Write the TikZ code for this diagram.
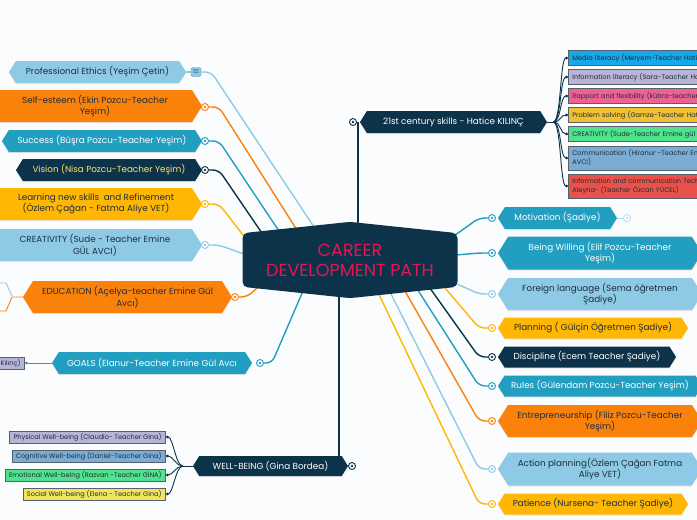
\documentclass[tikz,border=0pt]{standalone}
\usepackage{fontspec}
\setmainfont{Poppins}
\usetikzlibrary{arrows.meta, shapes.symbols, backgrounds, shadows}

\definecolor{Navy}{RGB}{13,51,74}
\definecolor{Teal}{RGB}{34,158,192}
\definecolor{SkyBlue}{RGB}{142,202,230}
\definecolor{Orange}{RGB}{250,130,10}
\definecolor{Amber}{RGB}{255,183,3}
\definecolor{Crimson}{RGB}{228,22,82}
\definecolor{Ink}{RGB}{30,45,60}
\definecolor{Lemon}{RGB}{255,230,100}
\definecolor{MediaBlue}{RGB}{22,168,232}
\definecolor{Lavender}{RGB}{184,180,216}
\definecolor{Pink}{RGB}{238,98,146}
\definecolor{Gold}{RGB}{240,192,48}
\definecolor{Mint}{RGB}{80,226,140}
\definecolor{Steel}{RGB}{122,172,212}
\definecolor{Coral}{RGB}{232,82,74}
\definecolor{Canary}{RGB}{242,228,92}
\definecolor{Paper}{RGB}{251,252,253}

\tikzset{
  branch/.style={signal, signal to=west and east, signal pointer angle=116,
    fill=#1, draw=none, inner xsep=4pt, inner ysep=2pt, align=center,
    font=\fontsize{8.8}{11.5}\selectfont,
    drop shadow={opacity=0.15, shadow xshift=0pt, shadow yshift=-1.2pt}},
  leaf/.style={rectangle, fill=#1, draw=Ink!75, line width=0.8pt, inner xsep=4pt,
    inner ysep=2pt, align=left, text=Ink, font=\fontsize{6.6}{9}\selectfont},
  marker/.style={circle, draw=#1, fill=white, line width=0.9pt, minimum size=7pt,
    inner sep=0pt, path picture={\fill[#1] (path picture bounding box.center) circle (1.3pt);}},
  link/.style={draw=#1, line width=1.4pt, rounded corners=6pt},
  twig/.style={draw=#1, line width=0.9pt},
}

\begin{document}
\begin{tikzpicture}[x=1pt, y=-1pt]
    \useasboundingbox (0,0) rectangle (697,520);

    % centre
    \node[signal, signal to=north and south, signal pointer angle=168, fill=Navy,
         rounded corners=5pt, minimum width=215pt, minimum height=72pt, text=Crimson,
         font=\fontsize{17.5}{20}\selectfont, align=center] (cdp) at (350,260)
         {CAREER\\DEVELOPMENT PATH};

    % left branches
    \node[branch=SkyBlue, text=Ink, minimum width=177pt, minimum height=22pt] (ethics) at (97.5,72)
         {Professional Ethics (Yeşim Çetin)};
    \node[fill=SkyBlue, draw=SkyBlue!70!Navy, rounded corners=1.5pt, minimum width=10pt,
         minimum height=9pt, inner sep=0pt, text=Navy, font=\fontsize{8}{8}\selectfont] (ethicon) at (196,72)
         {$\equiv$};
    \node[branch=Orange, text=Ink, minimum width=214pt, minimum height=32pt] (esteem) at (95,106)
         {Self-esteem (Ekin Pozcu-Teacher\\Yeşim)};
    \node[branch=Teal, text=white, minimum width=200pt, minimum height=22pt] (success) at (102,141)
         {Success (Büşra Pozcu-Teacher Yeşim)};
    \node[branch=Navy, text=Lemon, minimum width=186pt, minimum height=22pt] (vision) at (109,170)
         {Vision (Nisa Pozcu-Teacher Yeşim)};
    \node[branch=Amber, text=Ink, minimum width=212pt, minimum height=32pt] (learning) at (96,204)
         {Learning new skills\ \ and Refinement\\(Özlem Çağan - Fatma Aliye VET)};
    \node[branch=SkyBlue, text=Ink, minimum width=214pt, minimum height=32pt] (creativity) at (95,245)
         {CREATIVITY (Sude - Teacher Emine\\GÜL AVCI)};
    \node[branch=Orange, text=Ink, minimum width=209pt, minimum height=32pt] (education) at (127.5,297)
         {EDUCATION (Açelya-teacher Emine Gül\\Avcı)};
    \node[branch=Teal, text=white, minimum width=200pt, minimum height=22pt] (goals) at (152,363)
         {GOALS (Elanur-Teacher Emine Gül Avcı};
    \node[leaf=Lavender, anchor=east] (kilinc) at (25,363) {Kılınç)};

    \node[marker=Orange] (m-esteem) at (205,107) {};
    \node[marker=Teal] (m-success) at (205,141) {};
    \node[marker=Navy] (m-vision) at (205,170) {};
    \node[marker=Amber] (m-learning) at (205,204) {};
    \node[marker=SkyBlue] (m-creativity) at (205,245) {};
    \node[marker=Orange] (m-education) at (235,297) {};
    \node[marker=Teal] (m-goals) at (260,363) {};

    % well-being
    \node[branch=Navy, text=white, minimum width=155pt, minimum height=20pt] (wellbeing) at (270.5,466)
         {WELL-BEING (Gina Bordea)};
    \node[marker=Navy] (m-wellbeing) at (352,466) {};
    \node[leaf=Lavender, anchor=east] (physical) at (166,437) {Physical Well-being (Claudio- Teacher Gina)};
    \node[leaf=Steel, anchor=east] (cognitive) at (166,456) {Cognitive Well-being (Daniel-Teacher Gina)};
    \node[leaf=Mint, anchor=east] (emotional) at (166,475) {Emotional Well-being (Razvan -Teacher GİNA)};
    \node[leaf=Canary, anchor=east] (social) at (166,494) {Social Well-being (Elena - Teacher Gina)};

    % 21st century skills
    \node[branch=Navy, text=white, minimum width=187pt, minimum height=22pt] (skills) at (453.5,122)
         {21st century skills - Hatice KILINÇ};
    \node[marker=Navy] (m-skills) at (353,122) {};
    \node[leaf=MediaBlue, anchor=west, text width=180pt, minimum height=15pt] (media) at (568,58)
         {Media literacy (Meryem-Teacher Hatice KILINÇ)};
    \node[leaf=Lavender, anchor=west, text width=180pt, minimum height=15pt] (information) at (568,77)
         {Information literacy (Sara-Teacher Hatice KILINÇ)};
    \node[leaf=Pink, anchor=west, text width=180pt, minimum height=15pt] (rapport) at (568,96)
         {Rapport and flexibility (kübra-teacher Hatice KILINÇ)};
    \node[leaf=Gold, anchor=west, text width=180pt, minimum height=15pt] (problem) at (568,115)
         {Problem solving (Gamze-Teacher Hatice KILINÇ)};
    \node[leaf=Mint, anchor=west, text width=180pt, minimum height=15pt] (creative) at (568,134)
         {CREATIVITY (Sude-Teacher Emine gül AVCI)};
    \node[leaf=Steel, anchor=west, text width=180pt, minimum height=24pt] (communication) at (568,158)
         {Communication (Hiranur -Teacher Emine GÜL\\AVCI)};
    \node[leaf=Coral, anchor=west, text width=180pt, minimum height=24pt] (ict) at (568,186)
         {Information and communication Technologies\\Aleyna- (Teacher Özcan YÜCEL)};

    % right branches
    \node[branch=Teal, text=white, minimum width=119pt, minimum height=22pt] (motivation) at (557.5,218)
         {Motivation (Şadiye)};
    \node[branch=Teal, text=white, minimum width=204pt, minimum height=33pt] (willing) at (600,253)
         {Being Willing (Elif Pozcu-Teacher\\Yeşim)};
    \node[branch=SkyBlue, text=Ink, minimum width=204pt, minimum height=32pt] (language) at (600,294)
         {Foreign language (Sema öğretmen\\Şadiye)};
    \node[branch=Amber, text=Ink, minimum width=190pt, minimum height=21pt] (planning) at (593,328)
         {Planning ( Gülçin Öğretmen Şadiye)};
    \node[branch=Navy, text=white, minimum width=178pt, minimum height=21pt] (discipline) at (587,357)
         {Discipline (Ecem Teacher Şadiye)};
    \node[branch=Teal, text=white, minimum width=204pt, minimum height=21pt] (rules) at (600,386)
         {Rules (Gülendam Pozcu-Teacher Yeşim)};
    \node[branch=Orange, text=Ink, minimum width=204pt, minimum height=32pt] (entrepreneur) at (600,421)
         {Entrepreneurship (Filiz Pozcu-Teacher\\Yeşim)};
    \node[branch=SkyBlue, text=Ink, minimum width=204pt, minimum height=33pt] (action) at (600,469)
         {Action planning(Özlem Çağan Fatma\\Aliye VET)};
    \node[branch=Amber, text=Ink, minimum width=190pt, minimum height=21pt] (patience) at (593,504)
         {Patience (Nursena- Teacher Şadiye)};

    \node[marker=Teal] (m-motivation) at (492,218) {};
    \node[marker=SkyBlue!60] (m-motivation-end) at (627,218) {};
    \node[marker=Teal] (m-willing) at (492,253) {};
    \node[marker=SkyBlue] (m-language) at (492,294) {};
    \node[marker=Amber] (m-planning) at (492,328) {};
    \node[marker=Navy] (m-discipline) at (492,357) {};
    \node[marker=Teal] (m-rules) at (492,386) {};
    \node[marker=Orange] (m-entrepreneur) at (492,421) {};
    \node[marker=SkyBlue] (m-action) at (492,469) {};
    \node[marker=Amber] (m-patience) at (492,504) {};

    % connectors
    \coordinate (c-ethics) at (320,236);
    \coordinate (c-esteem) at (302,238);
    \coordinate (c-success) at (285,240);
    \coordinate (c-vision) at (268,242);
    \coordinate (c-learning) at (250,244);
    \coordinate (c-creativity) at (252,257);
    \coordinate (c-education) at (266,280);
    \coordinate (c-goals) at (306,284);
    \coordinate (c-well) at (339,284);
    \coordinate (c-skills) at (358,240);
    \coordinate (c-motivation) at (444,243);
    \coordinate (c-willing) at (444,256);
    \coordinate (c-language) at (444,278);
    \coordinate (c-planning) at (440,282);
    \coordinate (c-discipline) at (427,284);
    \coordinate (c-rules) at (414,284);
    \coordinate (c-entrepreneur) at (401,284);
    \coordinate (c-action) at (386,284);
    \coordinate (c-patience) at (374,284);

    \begin{pgfonlayer}{background}
      \fill[Paper] (0,0) rectangle (697,520);
      \draw[link=SkyBlue] (ethicon.east) -- ++(10,0) -- (c-ethics);
      \draw[link=SkyBlue] (ethics.east) -- (ethicon.west);
      \draw[link=Orange] (m-esteem.east) -- ++(10,0) -- (c-esteem);
      \draw[link=Teal] (m-success.east) -- ++(10,0) -- (c-success);
      \draw[link=Navy] (m-vision.east) -- ++(10,0) -- (c-vision);
      \draw[link=Amber] (m-learning.east) -- ++(10,0) -- (c-learning);
      \draw[link=SkyBlue] (m-creativity.east) -- ++(10,0) -- (c-creativity);
      \draw[link=Orange] (m-education.east) -- ++(8,0) -- (c-education);
      \draw[link=Teal] (m-goals.east) -- ++(8,0) -- (c-goals);
      \draw[link=Navy] (c-well) -- (c-well |- wellbeing.north);
      \draw[link=Navy] (c-skills) -- (c-skills |- skills.west);

      \draw[link=Teal] (m-motivation.west) -- ++(-9,0) -- (c-motivation);
      \draw[link=Teal] (m-willing.west) -- ++(-9,0) -- (c-willing);
      \draw[link=SkyBlue] (m-language.west) -- ++(-9,0) -- (c-language);
      \draw[link=Amber] (m-planning.west) -- ++(-9,0) -- (c-planning);
      \draw[link=Navy] (m-discipline.west) -- ++(-9,0) -- (c-discipline);
      \draw[link=Teal] (m-rules.west) -- ++(-9,0) -- (c-rules);
      \draw[link=Orange] (m-entrepreneur.west) -- ++(-9,0) -- (c-entrepreneur);
      \draw[link=SkyBlue] (m-action.west) -- ++(-9,0) -- (c-action);
      \draw[link=Amber] (m-patience.west) -- ++(-9,0) -- (c-patience);
      \draw[twig=SkyBlue!70, line width=1pt] (motivation.east) -- (m-motivation-end.west);

      % off-canvas child of education
      \draw[twig=SkyBlue] (0,283) -- (6,283) -- (12,296);
      \draw[twig=Orange] (education.west) -- (12,297) -- (6,311) -- (0,311);
    \end{pgfonlayer}

    \draw[twig=Teal, -{Circle[length=2.6pt]}] (goals.west) -- (kilinc.east);

    \draw[twig=Navy] (wellbeing.west) -- ++(-10,0) coordinate (f-well);
    \draw[twig=Navy, -{Circle[length=2.6pt]}] (f-well) .. controls +(-7,0) and +(7,0) .. (physical.east);
    \draw[twig=Navy, -{Circle[length=2.6pt]}] (f-well) .. controls +(-7,0) and +(7,0) .. (cognitive.east);
    \draw[twig=Navy, -{Circle[length=2.6pt]}] (f-well) .. controls +(-7,0) and +(7,0) .. (emotional.east);
    \draw[twig=Navy, -{Circle[length=2.6pt]}] (f-well) .. controls +(-7,0) and +(7,0) .. (social.east);

    \draw[twig=Navy] (skills.east) -- ++(6,0) coordinate (f-skills);
    \draw[twig=Navy, -{Circle[length=2.6pt]}] (f-skills) .. controls +(8,0) and +(-8,0) .. (media.west);
    \draw[twig=Navy, -{Circle[length=2.6pt]}] (f-skills) .. controls +(8,0) and +(-8,0) .. (information.west);
    \draw[twig=Navy, -{Circle[length=2.6pt]}] (f-skills) .. controls +(8,0) and +(-8,0) .. (rapport.west);
    \draw[twig=Navy, -{Circle[length=2.6pt]}] (f-skills) .. controls +(8,0) and +(-8,0) .. (problem.west);
    \draw[twig=Navy, -{Circle[length=2.6pt]}] (f-skills) .. controls +(8,0) and +(-8,0) .. (creative.west);
    \draw[twig=Navy, -{Circle[length=2.6pt]}] (f-skills) .. controls +(8,0) and +(-8,0) .. (communication.west);
    \draw[twig=Navy, -{Circle[length=2.6pt]}] (f-skills) .. controls +(8,0) and +(-8,0) .. (ict.west);
\end{tikzpicture}
\end{document}
